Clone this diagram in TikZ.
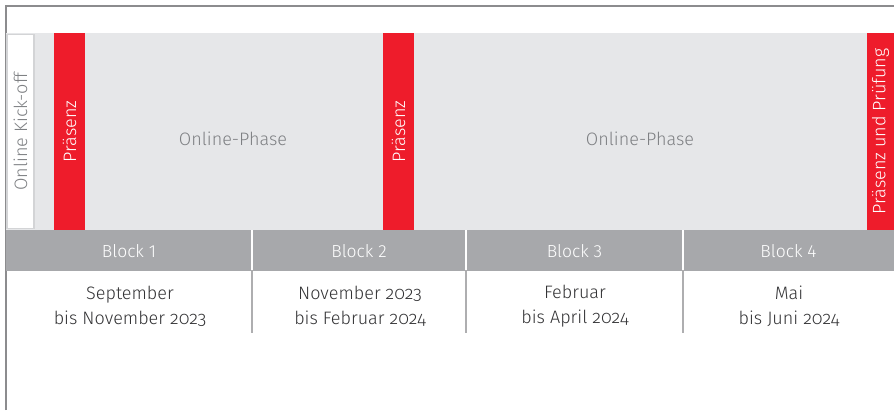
\documentclass[tikz,border=0pt]{standalone}
\usepackage{fontspec}
\setmainfont{Fira Sans Light}[Numbers=OldStyle]
\definecolor{framegray}{HTML}{8C8C8E}
\definecolor{phasegray}{HTML}{E6E7E9}
\definecolor{blockgray}{HTML}{A7A8AB}
\definecolor{kickgray}{HTML}{D3D4D6}
\definecolor{phasetext}{HTML}{7E8083}
\definecolor{datetext}{HTML}{333335}
\definecolor{praesenzred}{HTML}{EE1C2B}
\tikzset{
  redbar/.style={fill=praesenzred, text=white, rotate=90, inner sep=0pt,
    minimum width=197pt, minimum height=31pt, font=\fontsize{18}{21}\selectfont},
  blockcell/.style={fill=blockgray, text=white, inner sep=0pt,
    minimum height=40pt, font=\fontsize{17.5}{20}\selectfont\addfontfeature{Numbers=Lining}},
  datetxt/.style={align=center, text=datetext, font=\fontsize{18}{25}\selectfont}
}
\begin{document}
\begin{tikzpicture}[x=1pt, y=-1pt]
  \useasboundingbox (0,0) rectangle (894,410);
  % frame
  \draw [framegray, line width=1.6pt] (6,410) -- (6,6) -- (894,6);
  % phase band
  \fill [phasegray] (6,33) rectangle (894,230);
  \node [draw=kickgray, line width=1.8pt, fill=white, rotate=90, inner sep=0pt,
    minimum width=194pt, minimum height=27pt, text=phasetext,
    font=\fontsize{18}{21}\selectfont] (kickoff) at (20.5,131.5) {Online Kick-off};
  \node [redbar] (praesenz1) at (69.5,131.5) {Präsenz};
  \node [redbar] (praesenz2) at (398.5,131.5) {Präsenz};
  \node [redbar, minimum height=27pt] (praesenz3) at (880.5,131.5) {Präsenz und Prüfung};
  \node [text=phasetext, font=\fontsize{18}{21}\selectfont] (online1) at (233,139) {Online-Phase};
  \node [text=phasetext, font=\fontsize{18}{21}\selectfont] (online2) at (640,139) {Online-Phase};
  % blocks
  \node [blockcell, minimum width=246pt] (block1) at (129,251) {Block 1};
  \node [blockcell, minimum width=214pt] (block2) at (359,251) {Block 2};
  \node [blockcell, minimum width=217pt] (block3) at (574.5,251) {Block 3};
  \node [blockcell, minimum width=211pt] (block4) at (788.5,251) {Block 4};
  \fill [blockgray] (6,230) rectangle (894,232);
  \foreach \x in {252,466,683} {
    \draw [white, line width=1.5pt] (\x,230) -- (\x,270);
    \draw [framegray!70, line width=1.2pt] (\x,270) -- (\x,333);
  }
  % dates
  \node [datetxt] (date1) at (130,306) {September\\bis November 2023};
  \node [datetxt] (date2) at (360,306) {November 2023\\bis Februar 2024};
  \node [datetxt] (date3) at (575,306) {Februar\\bis April 2024};
  \node [datetxt] (date4) at (789,306) {Mai\\bis Juni 2024};
\end{tikzpicture}
\end{document}
